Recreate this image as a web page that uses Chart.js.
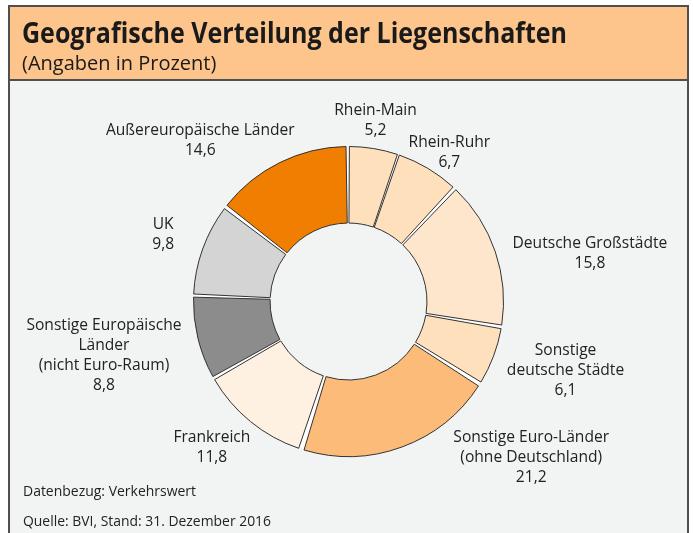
<!DOCTYPE html>
<html>
<head>
<meta charset="utf-8">
<script src="https://cdn.jsdelivr.net/npm/chart.js@4"></script>
<style>
  body { margin: 0; background: #fff; }
  #wrap { width: 693px; height: 533px; }
</style>
</head>
<body>
<div id="wrap"><canvas id="myChart" width="693" height="533"></canvas></div>
<script>
var categories = [
    ['Rhein-Main'],
    ['Rhein-Ruhr'],
    ['Deutsche Großstädte'],
    ['Sonstige', 'deutsche Städte'],
    ['Sonstige Euro-Länder', '(ohne Deutschland)'],
    ['Frankreich'],
    ['Sonstige Europäische', 'Länder', '(nicht Euro-Raum)'],
    ['UK'],
    ['Außereuropäische Länder']
];
var shares = [5.2, 6.7, 15.8, 6.1, 21.2, 11.8, 8.8, 9.8, 14.6];

var colors = ['#fee0bd', '#fee0bd', '#fee6cc', '#fee0bd', '#fdbb79', '#fff1e2', '#8c8c8c', '#d4d4d4', '#f07e00'];
// small shifts of the label blocks, like the hand placed labels of the print version
var nudge = [[-7, 5], [-6, 13], [9, 12], [5, -1], [98, -30], [-6, 0], [-6, 5], [-17, -3], [-32, 8]];

var title = 'Geografische Verteilung der Liegenschaften';
var subtitle = '(Angaben in Prozent)';
var notes = ['Datenbezug: Verkehrswert', 'Quelle: BVI, Stand: 31. Dezember 2016'];

var frame = {
    id: 'frame',
    beforeDraw: function (chart) {
        var c = chart.ctx;
        c.save();
        c.fillStyle = '#fff';
        c.fillRect(0, 0, 693, 533);
        c.fillStyle = '#f2f3f3';
        c.fillRect(9, 6, 680, 527);
        c.fillStyle = '#fdc48c';
        c.fillRect(9, 6, 680, 74);
        c.strokeStyle = '#505050';
        c.lineWidth = 2;
        c.beginPath();
        c.moveTo(9, 533); c.lineTo(9, 6); c.lineTo(688, 6); c.lineTo(688, 533);
        c.moveTo(9, 80); c.lineTo(688, 80);
        c.stroke();

        c.fillStyle = '#1a1a1a';
        c.textBaseline = 'alphabetic';
        c.textAlign = 'left';
        c.font = 'bold 28px "Open Sans"';
        c.fillText(title, 22, 43, 545);
        c.font = '20px "Open Sans"';
        c.fillText(subtitle, 22, 70, 204);
        c.fillStyle = '#222';
        c.font = '14px "Open Sans"';
        c.fillText(notes[0], 23, 496, 173);
        c.fillText(notes[1], 23, 526, 248);
        c.restore();
    },
    beforeDatasetsDraw: function (chart) {
        // white ring behind the slices, so the gaps between them show white
        var a = chart.getDatasetMeta(0).data[0];
        var sp = a.options.spacing / 2;
        var c = chart.ctx;
        c.save();
        c.fillStyle = '#fff';
        c.beginPath();
        c.arc(a.x, a.y, a.outerRadius + sp - 1, 0, Math.PI * 2);
        c.arc(a.x, a.y, a.innerRadius + sp + 1, 0, Math.PI * 2, true);
        c.fill();
        c.restore();
    },
    afterDraw: function (chart) {
        var c = chart.ctx;
        var arcs = chart.getDatasetMeta(0).data;
        c.save();
        c.fillStyle = '#222';
        c.font = '15.6px "Open Sans"';
        c.textAlign = 'center';
        c.textBaseline = 'middle';
        var lh = 20;
        arcs.forEach(function (a, i) {
            var mid = (a.startAngle + a.endAngle) / 2;
            var dx = Math.cos(mid), dy = Math.sin(mid);
            var lines = categories[i].concat([shares[i].toFixed(1).replace('.', ',')]);
            var w = 0;
            lines.forEach(function (t) { w = Math.max(w, c.measureText(t).width); });
            var h = lines.length * lh;
            var r = a.outerRadius + a.options.spacing / 2 + 13;
            var cx = a.x + r * dx + w / 2 * dx + nudge[i][0];
            var cy = a.y + r * dy + h / 2 * dy + nudge[i][1];
            lines.forEach(function (t, k) {
                c.fillText(t, cx, cy - h / 2 + lh / 2 + k * lh);
            });
        });
        c.restore();
    }
};

var ctx = document.getElementById('myChart');
var myChart = new Chart(ctx, {
    type: 'doughnut',
    data: {
        labels: categories.map(function (l) { return l.join(' '); }),
        datasets: [{
            data: shares,
            backgroundColor: colors,
            borderColor: '#333',
            borderWidth: 1,
            borderJoinStyle: 'miter',
            spacing: 8
        }]
    },
    options: {
        responsive: false,
        animation: false,
        cutout: '49.3%',
        layout: {
            padding: { left: 193, right: 189, top: 146, bottom: 76 }
        },
        plugins: {
            legend: { display: false },
            tooltip: { enabled: false }
        }
    },
    plugins: [frame]
});
</script>
</body>
</html>
